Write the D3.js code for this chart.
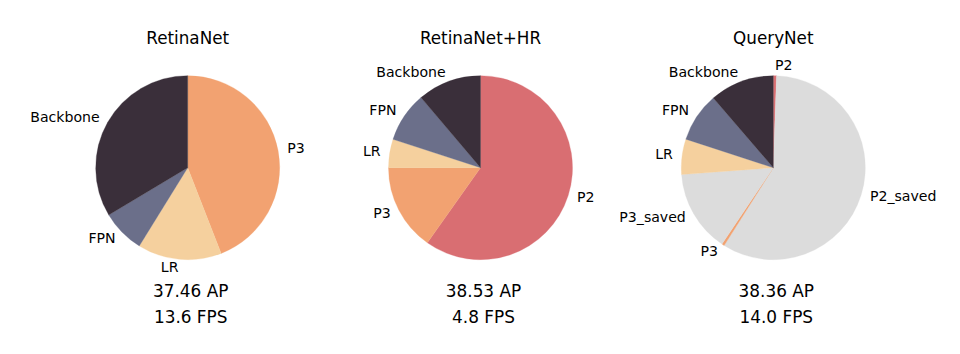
<!DOCTYPE html>
<html>
<head>
<meta charset="utf-8">
<script src="https://cdn.jsdelivr.net/npm/d3@7"></script>
<style>
  html, body { margin: 0; padding: 0; background: #fff; }
  svg { display: block; font-family: "DejaVu Sans", sans-serif; }
</style>
</head>
<body>
<svg id="chart" width="960" height="354"></svg>
<script>
// ---- data ----
const titles = ["RetinaNet", "RetinaNet+HR", "QueryNet"];
const apLabels = ["37.46 AP", "38.53 AP", "38.36 AP"];
const fpsLabels = ["13.6 FPS", "4.8 FPS", "14.0 FPS"];

const retinaLabels = ["P3", "LR", "FPN", "Backbone"];
const retinaValues = [44.1, 14.75, 7.6, 33.6];

const hrLabels = ["P2", "P3", "LR", "FPN", "Backbone"];
const hrValues = [59.8, 15.2, 5.0, 8.8, 11.2];

const queryLabels = ["P2", "P2_saved", "P3", "P3_saved", "LR", "FPN", "Backbone"];
const queryValues = [0.56, 58.4, 0.44, 14.4, 6.2, 8.67, 11.3];

const componentNames = ["Backbone", "FPN", "LR", "P3", "P2", "P2_saved", "P3_saved"];
const componentColors = ["#3a2f3a", "#6b6f8a", "#f5d09e", "#f2a271", "#d96e72", "#dcdcdc", "#dcdcdc"];

// ---- build ----
const charts = [
  { labels: retinaLabels, values: retinaValues },
  { labels: hrLabels, values: hrValues },
  { labels: queryLabels, values: queryValues }
];

const svg = d3.select("#chart");
const color = d3.scaleOrdinal().domain(componentNames).range(componentColors);
const xCenter = d3.scalePoint().domain(titles).range([187.7, 773.3]);
const cy = 167.7;
const radius = 92;
const labelDist = 1.1;

const pie = d3.pie().sort(null).value(d => d.value).startAngle(0).endAngle(2 * Math.PI);
const arc = d3.arc().innerRadius(0).outerRadius(radius);

charts.forEach((c, i) => {
  const cx = xCenter(titles[i]);
  const g = svg.append("g").attr("transform", `translate(${cx},${cy})`);
  const rows = c.labels.map((l, j) => ({ label: l, value: c.values[j] }));
  const arcs = pie(rows);

  g.selectAll("path").data(arcs).join("path")
    .attr("d", arc)
    .attr("fill", d => color(d.data.label))
    .attr("stroke", d => color(d.data.label))
    .attr("stroke-width", 0.3);

  g.selectAll("text.lbl").data(arcs).join("text")
    .attr("class", "lbl")
    .each(function(d) {
      const a = (d.startAngle + d.endAngle) / 2;
      const x = Math.sin(a) * radius * labelDist;
      const y = -Math.cos(a) * radius * labelDist;
      d3.select(this)
        .attr("x", x).attr("y", y - 1.2)
        .attr("text-anchor", x > 0 ? "start" : "end")
        .attr("dominant-baseline", "central");
    })
    .attr("font-size", 14.1)
    .attr("fill", "#000")
    .text(d => d.data.label);

  svg.append("text")
    .attr("x", cx).attr("y", 44)
    .attr("text-anchor", "middle")
    .attr("font-size", 16.8)
    .text(titles[i]);

  svg.append("text")
    .attr("x", cx + 3).attr("y", 296.5)
    .attr("text-anchor", "middle")
    .attr("font-size", 16.9)
    .text(apLabels[i]);

  svg.append("text")
    .attr("x", cx + 3).attr("y", 323)
    .attr("text-anchor", "middle")
    .attr("font-size", 16.9)
    .text(fpsLabels[i]);
});
</script>
</body>
</html>
